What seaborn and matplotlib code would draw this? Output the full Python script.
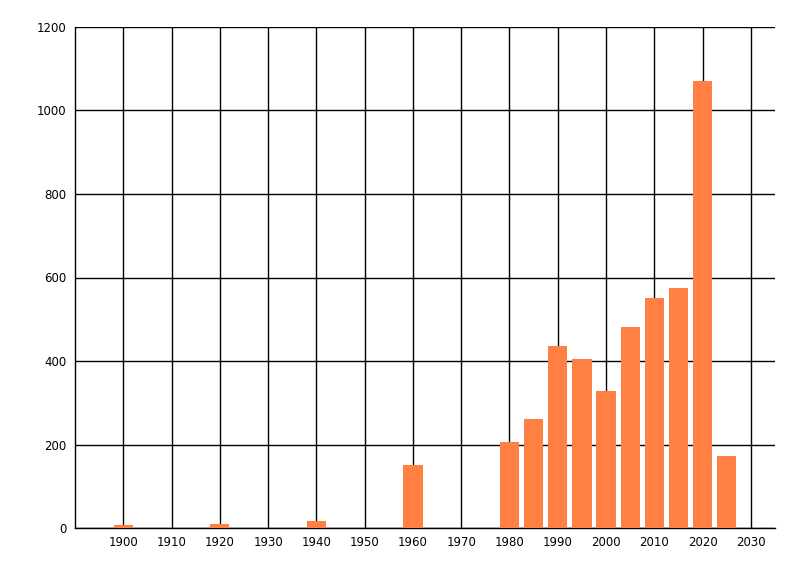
import numpy as np
import matplotlib
matplotlib.use("Agg")
import matplotlib.pyplot as plt
import seaborn as sns

years = [1900, 1920, 1940, 1960, 1980, 1985, 1990, 1995, 2000, 2005, 2010, 2015, 2020, 2025]
counts = [7, 10, 17, 151, 205, 260, 437, 404, 327, 481, 550, 574, 1070, 172]

x_ticks = list(range(1900, 2031, 10))
y_ticks = list(range(0, 1201, 200))

sns.set_style("white")
plt.rcParams['font.family'] = ['DejaVu Sans']

fig = plt.figure(figsize=(8, 5.76), dpi=100)
ax = fig.add_axes([75 / 800, 48 / 576, 700 / 800, 501 / 576])

sns.barplot(x=years, y=counts, native_scale=True, width=0.8,
            color="#FF8042", saturation=1, linewidth=0, edgecolor="none",
            ax=ax, zorder=3)

ax.set_xlim(1890, 2035)
ax.set_ylim(0, 1200)
ax.set_xticks(x_ticks)
ax.set_yticks(y_ticks)
ax.set_xticklabels([str(t) for t in x_ticks])
ax.set_yticklabels([str(t) for t in y_ticks])

ax.grid(True, color="black", linewidth=1, zorder=0)
ax.set_axisbelow(True)

for s in ["top", "right"]:
    ax.spines[s].set_visible(False)
for s in ["left", "bottom"]:
    ax.spines[s].set_color("black")
    ax.spines[s].set_linewidth(1)

ax.tick_params(axis="y", length=4, width=1, color="black", labelcolor="black",
               labelsize=8.5, pad=2)
ax.tick_params(axis="x", length=0, labelcolor="black", labelsize=8.5, pad=6)
ax.set_xlabel("")
ax.set_ylabel("")

fig.savefig("out.png", dpi=100)
